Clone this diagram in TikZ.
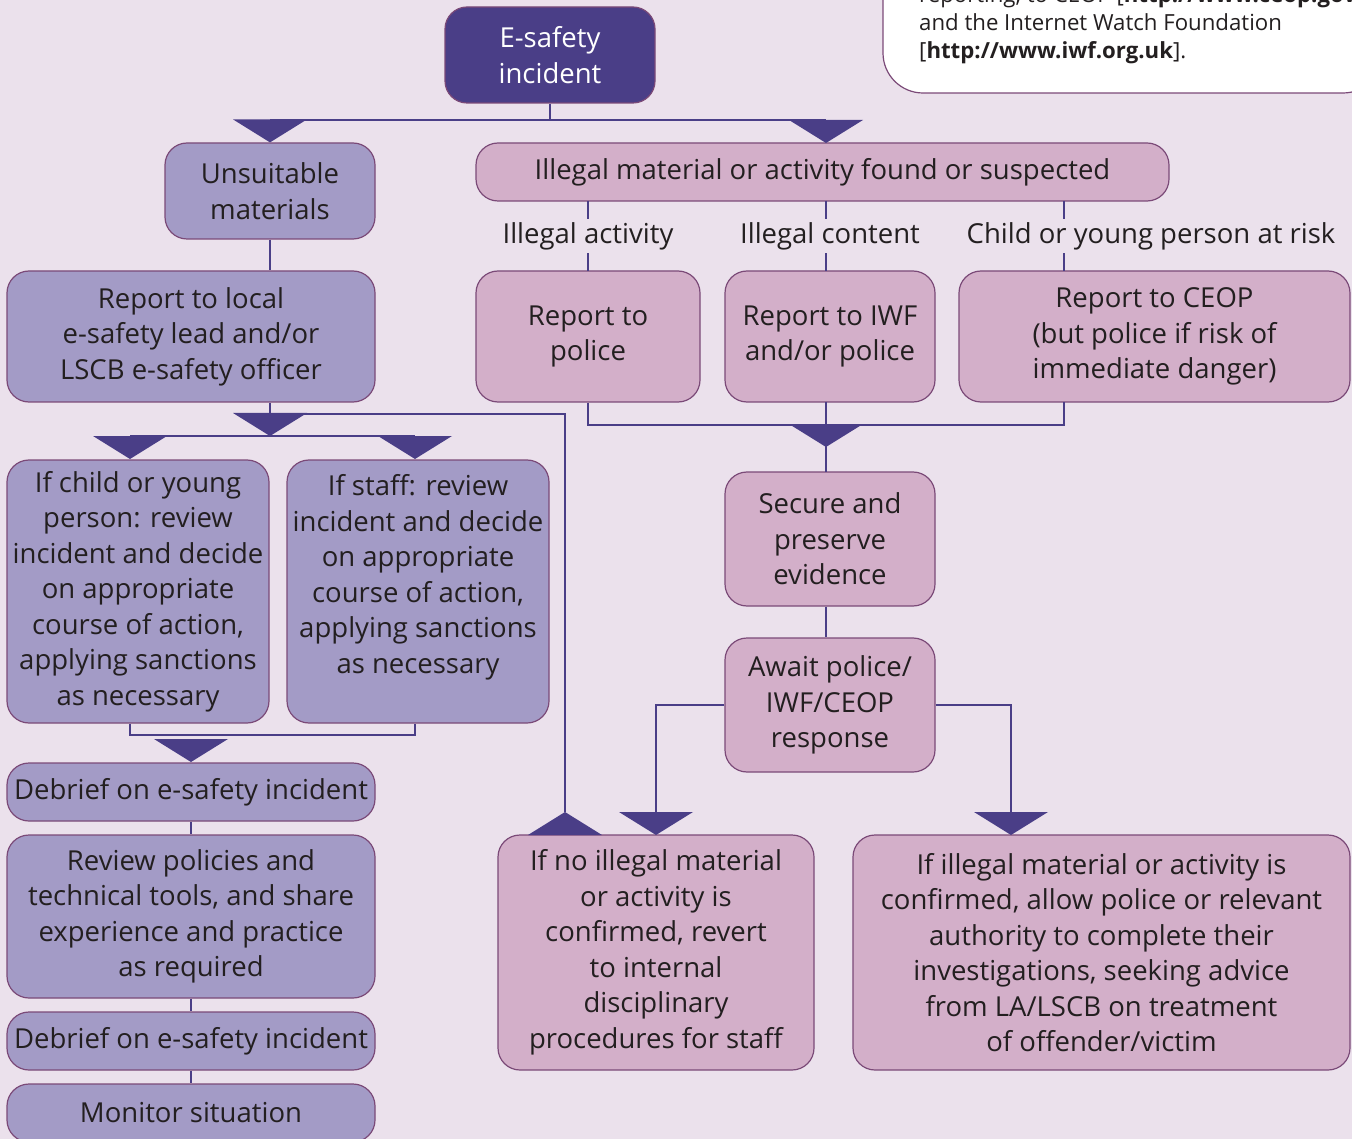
\documentclass[tikz,border=0pt]{standalone}
\usepackage{fontspec}
\setmainfont{Open Sans}
\usetikzlibrary{calc}
\definecolor{bgc}{HTML}{EBE1EC}
\definecolor{darkp}{HTML}{4A3E87}
\definecolor{lavc}{HTML}{A39BC6}
\definecolor{pinkc}{HTML}{D3AFC9}
\definecolor{edgec}{HTML}{7B4A78}
\definecolor{txtc}{HTML}{231F20}
\tikzset{
  basebox/.style={draw=edgec, line width=1.2pt, rounded corners=22pt, inner sep=0pt, align=center,
    text=txtc, font=\fontsize{27.5}{35.5}\selectfont},
  lbox/.style={basebox, fill=lavc},
  pbox/.style={basebox, fill=pinkc},
  dbox/.style={basebox, fill=darkp, text=white},
  conn/.style={draw=darkp, line width=2.4pt},
  lab/.style={fill=bgc, inner sep=3pt, text=txtc, font=\fontsize{27.5}{35.5}\selectfont},
}
\newcommand\downtri[1]{\fill[darkp] ($(#1)+(-37,-23)$) -- ($(#1)+(37,-23)$) -- (#1) -- cycle;}
\newcommand\uptri[1]{\fill[darkp] ($(#1)+(-37,23)$) -- ($(#1)+(37,23)$) -- (#1) -- cycle;}
\begin{document}
\begin{tikzpicture}[x=1pt,y=-1pt]
\useasboundingbox (0,0) rectangle (1352,1139);
\fill[bgc] (0,0) rectangle (1352,1139);

% note box (top right, partly cut)
\node[draw=edgec, line width=1.2pt, fill=white, rounded corners=40pt, minimum width=500pt, minimum height=140pt, inner sep=0pt] (note) at (1133,23) {};
\node[anchor=north west, align=left, inner sep=0pt, text=txtc, font=\fontsize{22.2}{28}\selectfont] (notetext) at (919,-15)
  {reporting, to CEOP [\textbf{http://www.ceop.gov.uk}]\\and the Internet Watch Foundation\\{[}\textbf{http://www.iwf.org.uk}{]}.};

% nodes
\node[dbox, minimum width=210pt, minimum height=96pt] (esafety) at (550,55) {E-safety\\incident};
\node[lbox, minimum width=210pt, minimum height=96pt] (unsuit) at (270,191) {Unsuitable\\materials};
\node[pbox, minimum width=693pt, minimum height=58pt] (illegal) at (822.5,172) {Illegal material or activity found or suspected};
\node[lbox, minimum width=368pt, minimum height=131pt] (local) at (191,336.5) {Report to local\\e-safety lead and/or\\LSCB e-safety officer};
\node[pbox, minimum width=224pt, minimum height=131pt] (police) at (588,336.5) {Report to\\police};
\node[pbox, minimum width=210pt, minimum height=131pt] (iwf) at (830,336.5) {Report to IWF\\and/or police};
\node[pbox, minimum width=391pt, minimum height=131pt] (ceop) at (1154.5,336.5) {Report to CEOP\\(but police if risk of\\immediate danger)};
\node[lbox, minimum width=262pt, minimum height=263pt] (child) at (138,591.5) {If child or young\\person: review\\incident and decide\\on appropriate\\course of action,\\applying sanctions\\as necessary};
\node[lbox, minimum width=262pt, minimum height=263pt] (staff) at (418,591.5) {If staff: review\\incident and decide\\on appropriate\\course of action,\\applying sanctions\\as necessary\\\mbox{}};
\node[lbox, minimum width=368pt, minimum height=58pt] (deb1) at (191,792) {Debrief on e-safety incident};
\node[lbox, minimum width=368pt, minimum height=163pt] (review) at (191,916.5) {Review policies and\\technical tools, and share\\experience and practice\\as required};
\node[lbox, minimum width=368pt, minimum height=58pt] (deb2) at (191,1041) {Debrief on e-safety incident};
\node[lbox, minimum width=368pt, minimum height=58pt] (monitor) at (191,1113) {Monitor situation};
\node[pbox, minimum width=210pt, minimum height=134pt] (secure) at (830,539) {Secure and\\preserve\\evidence};
\node[pbox, minimum width=210pt, minimum height=134pt] (await) at (830,705) {Await police/\\IWF/CEOP\\response};
\node[pbox, minimum width=316pt, minimum height=235pt] (noill) at (656,952.5) {If no illegal material\\or activity is\\confirmed, revert\\to internal\\disciplinary\\procedures for staff};
\node[pbox, minimum width=497pt, minimum height=235pt] (ill) at (1101.5,952.5) {If illegal material or activity is\\confirmed, allow police or relevant\\authority to complete their\\investigations, seeking advice\\from LA/LSCB on treatment\\of offender/victim};

% junction coordinates
\coordinate (jtop) at (esafety.south |- 0,120);
\coordinate (jtopL) at (unsuit.north |- 0,120);
\coordinate (jtopR) at (826,120);
\coordinate (illtip) at (826,143);
\coordinate (bA) at (588,201);
\coordinate (bB) at (826,201);
\coordinate (bC) at (1064,201);
\coordinate (eA) at (588,271);
\coordinate (eB) at (826,271);
\coordinate (eC) at (1064,271);

% top connectors
\draw[conn] (esafety.south) -- (jtop);
\draw[conn] (jtopL) -- (jtopR);
\downtri{unsuit.north}
\downtri{illtip}
\draw[conn] (unsuit.south) -- (local.north -| unsuit.south);

% illegal branches
\draw[conn] (bA) -- (eA);
\draw[conn] (bB) -- (eB);
\draw[conn] (bC) -- (eC);
\node[lab] (lab1) at (588,236) {Illegal activity};
\node[lab] (lab2) at (830,236) {Illegal content};
\node[lab] (lab3) at (1151,236) {Child or young person at risk};

% merge to secure
\coordinate (pB) at (826,402);
\coordinate (cB) at (1064,402);
\coordinate (sectip) at (826,447);
\coordinate (secin) at (826,472);
\draw[conn] (police.south) -- (588,425) -- (1064,425) -- (cB);
\draw[conn] (pB) -- (secin);
\downtri{sectip}
\draw[conn] (secure.south -| secin) -- (await.north -| secin);

% await outcomes
\coordinate (nitip) at (656,835);
\coordinate (iltip) at (1011,835);
\draw[conn] (await.west) -| ($(nitip)+(0,-23)$);
\draw[conn] (await.east) -| ($(iltip)+(0,-23)$);
\downtri{nitip}
\downtri{iltip}

% local report branch
\coordinate (lsplit) at (270,414);
\coordinate (ltip) at (270,436);
\coordinate (chtip) at (130,459);
\coordinate (sttip) at (415,459);
\coordinate (upapex) at (565,812);
\draw[conn] (local.south -| lsplit) -- (lsplit);
\draw[conn] (lsplit) -- (565,414) -- (upapex);
\uptri{upapex}
\downtri{ltip}
\draw[conn] (130,436) -- (415,436);
\downtri{chtip}
\downtri{sttip}

% child/staff to debrief
\coordinate (dtip) at (191,762);
\draw[conn] (child.south -| chtip) -- (130,735) -- (415,735) -- (staff.south -| sttip);
\downtri{dtip}
\draw[conn] (deb1.south) -- (review.north);
\draw[conn] (review.south) -- (deb2.north);
\draw[conn] (deb2.south) -- (monitor.north);
\end{tikzpicture}
\end{document}
